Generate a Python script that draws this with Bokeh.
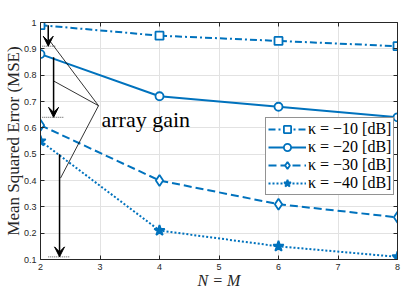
from bokeh.plotting import figure
from bokeh.models import (Range1d, LinearAxis, Legend, LegendItem, Arrow, VeeHead,
                          Label, FixedTicker, ColumnDataSource, CustomJSTickFormatter)
from bokeh.embed import file_html
from bokeh.resources import INLINE

# ---- data ----
N = [2, 4, 6, 8]
mse_k10 = [0.99, 0.95, 0.93, 0.91]
mse_k20 = [0.88, 0.72, 0.68, 0.64]
mse_k30 = [0.61, 0.40, 0.31, 0.26]
mse_k40 = [0.55, 0.21, 0.15, 0.11]
series_labels = ["κ = −10 [dB]", "κ = −20 [dB]", "κ = −30 [dB]", "κ = −40 [dB]"]
x_ticks = [2, 3, 4, 5, 6, 7, 8]
y_ticks = [0.1, 0.2, 0.3, 0.4, 0.5, 0.6, 0.7, 0.8, 0.9, 1]
x_title = "N = M"
y_title = "Mean Squared Error (MSE)"

# annotation ("array gain") anchors in data units
arrow_x = [2.13, 2.22, 2.32]
arrow_y_start = [0.99, 0.868, 0.50]
arrow_y_end = [0.91, 0.64, 0.11]
ref_x0 = [2.03, 2.03, 2.13]
ref_x1 = [2.25, 2.40, 2.50]
callout_x = [2.14, 2.22, 2.336]
callout_y = [0.935, 0.778, 0.409]
callout_vertex = (2.975, 0.684)
note_text = "array gain"
note_pos = (3.025, 0.631)

BLUE = "#0072BD"
AX = "#262626"

p = figure(width=407, height=291, output_backend="svg", toolbar_location=None,
           x_range=Range1d(2, 8), y_range=Range1d(0.1, 1.0),
           min_border_left=40, min_border_right=10, min_border_top=22, min_border_bottom=30)
p.background_fill_color = "white"
p.border_fill_color = "white"
p.outline_line_color = None

for ax in (p.xaxis[0], p.yaxis[0]):
    ax.major_tick_in = 4
    ax.major_tick_out = 0
    ax.minor_tick_line_color = None
    ax.axis_line_color = AX
    ax.major_tick_line_color = AX
    ax.major_label_text_font = "Liberation Sans"
    ax.major_label_text_font_size = "9px"
    ax.major_label_text_color = AX
    ax.axis_label_text_font = "Liberation Serif"
    ax.axis_label_text_color = AX
p.xaxis.ticker = FixedTicker(ticks=x_ticks)
p.yaxis.ticker = FixedTicker(ticks=y_ticks)
p.yaxis.major_label_overrides = {1: "1"}

p.xaxis.axis_label = x_title
p.xaxis.axis_label_text_font_style = "italic"
p.xaxis.axis_label_text_font_size = "16px"
p.xaxis.major_label_standoff = 4
p.xaxis.axis_label_standoff = -1

p.yaxis.axis_label = y_title
p.yaxis.axis_label_text_font_style = "normal"
p.yaxis.axis_label_text_font_size = "17px"
p.yaxis.major_label_standoff = 4
p.yaxis.axis_label_standoff = -2

for loc, ticks in (("right", y_ticks), ("above", x_ticks)):
    a = LinearAxis(ticker=FixedTicker(ticks=ticks),
                   formatter=CustomJSTickFormatter(code="return ''"))
    a.major_tick_in = 4
    a.major_tick_out = 0
    a.minor_tick_line_color = None
    a.axis_line_color = AX
    a.major_tick_line_color = AX
    a.major_label_standoff = 0
    p.add_layout(a, loc)

p.xgrid.ticker = FixedTicker(ticks=x_ticks)
p.ygrid.ticker = FixedTicker(ticks=y_ticks)
p.xgrid.grid_line_color = "#e2e2e2"
p.ygrid.grid_line_color = "#e2e2e2"

styles = [
    (mse_k10, "7 3 2 3", "square", 8),
    (mse_k20, "solid", "circle", 8),
    (mse_k30, "8 4", "diamond", 11),
    (mse_k40, "2 2", "star", 11),
]
items = []
for (vals, dash, marker, size), lab in zip(styles, series_labels):
    r = p.line(N, vals, line_color=BLUE, line_width=2, line_dash=dash)
    fill = BLUE if marker == "star" else "white"
    s = p.scatter(N, vals, marker=marker, size=size, line_color=BLUE,
                  fill_color=fill, line_width=1.8)
    items.append(LegendItem(label=lab, renderers=[r, s]))

legend = Legend(items=items, location=(225, 64))
legend.label_text_font = "Liberation Serif"
legend.label_text_font_size = "16px"
legend.label_text_color = "black"
legend.glyph_width = 38
legend.glyph_height = 18
legend.label_height = 18
legend.label_standoff = 2
legend.spacing = 0
legend.padding = 2
legend.margin = 0
legend.border_line_color = AX
legend.border_line_width = 1
legend.background_fill_color = "white"
legend.background_fill_alpha = 1
p.add_layout(legend)

# annotation: arrows, reference dotted lines, callout lines, text
p.segment(x0=ref_x0, y0=arrow_y_end, x1=ref_x1, y1=arrow_y_end,
          line_color="#555555", line_width=1, line_dash="1 1")
vx, vy = callout_vertex
p.segment(x0=[vx] * 3, y0=[vy] * 3, x1=callout_x, y1=callout_y,
          line_color="black", line_width=0.8)
asrc = ColumnDataSource(dict(x=arrow_x, y0=arrow_y_start, y1=arrow_y_end))
p.add_layout(Arrow(x_start="x", y_start="y0", x_end="x", y_end="y1", source=asrc,
                   line_color="black", line_width=1.5,
                   end=VeeHead(size=10, fill_color="black", line_color="black", line_width=1)))
p.add_layout(Label(x=note_pos[0], y=note_pos[1], text=note_text,
                   text_font="Liberation Serif", text_font_size="22px",
                   text_color="black", text_baseline="alphabetic"))

open("out.html", "w").write(file_html(p, INLINE))
